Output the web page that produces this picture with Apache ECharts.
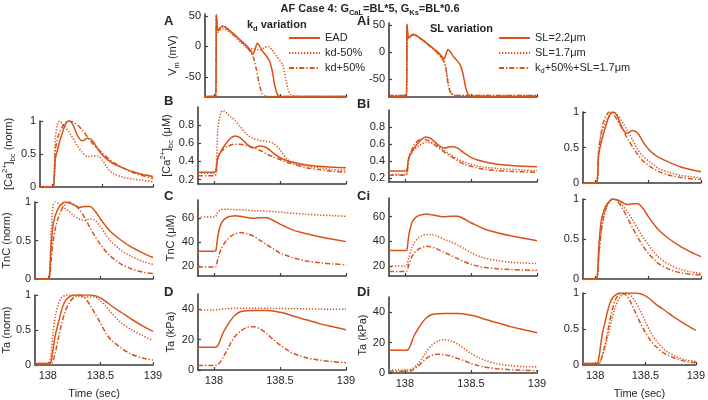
<!DOCTYPE html>
<html>
<head>
<meta charset="utf-8">
<script src="https://cdn.jsdelivr.net/npm/echarts@6.0.0/dist/echarts.min.js"></script>
<style>
  html, body { margin: 0; padding: 0; background: #fff; }
  #chart { width: 708px; height: 400px; }
</style>
</head>
<body>
<div id="chart"></div>
<script>
// time samples shared by the Ca / TnC / Ta traces (sec)
const T = [137.88, 138.0, 138.015, 138.03, 138.05, 138.07, 138.1, 138.13, 138.16, 138.2, 138.25,
  138.3, 138.35, 138.4, 138.45, 138.5, 138.55, 138.6, 138.7, 138.8, 138.9, 139.0];

// Vm traces (mV), each with its own time samples
const vmEadT = [137.88, 138.012, 138.016, 138.022, 138.03, 138.045, 138.06, 138.08, 138.1, 138.15, 138.2, 138.25,
  138.28, 138.295, 138.31, 138.325, 138.34, 138.37, 138.4, 138.42, 138.44, 138.46, 138.48, 138.5, 139.0];
const vmEadV = [-82, -82, 52, 34, 26, 30, 33, 32, 29, 20, 10, 0,
  -8, -13, -5, 5, 2, -9, -17, -24, -40, -65, -79, -82, -82];
const vmKdLoT = [137.88, 138.012, 138.016, 138.022, 138.03, 138.05, 138.07, 138.1, 138.15, 138.2, 138.25, 138.3,
  138.35, 138.38, 138.41, 138.44, 138.48, 138.52, 138.54, 138.56, 138.58, 138.61, 139.0];
const vmKdLoV = [-82, -82, 50, 30, 23, 27, 29, 26, 17, 7, -3, -4,
  -6, -2, 0, -6, -18, -30, -50, -70, -79, -82, -82];
const vmKdHiT = [137.88, 138.012, 138.016, 138.022, 138.03, 138.045, 138.06, 138.08, 138.1, 138.15, 138.2, 138.25,
  138.28, 138.3, 138.32, 138.34, 138.36, 138.39, 139.0];
const vmKdHiV = [-82, -82, 52, 34, 26, 30, 33, 32, 29, 19, 9, -2,
  -11, -20, -38, -60, -76, -82, -82];
const vmSlT = [137.88, 138.012, 138.016, 138.022, 138.03, 138.045, 138.06, 138.08, 138.1, 138.15, 138.2, 138.25,
  138.28, 138.3, 138.315, 138.33, 138.35, 138.38, 139.0];
const vmSlShortV = [-80, -80, 50, 30, 27, 30, 32, 31, 28, 19, 9, -2, -11, -18, -35, -60, -76, -80, -80];
const vmSlKdV = [-80, -80, 51, 31, 27, 30, 32, 31, 28, 19, 9, -2, -11, -19, -38, -63, -77, -80, -80];

// [Ca2+]bc (uM)
const caEad = [0.28, 0.28, 0.29, 0.44, 0.50, 0.55, 0.61, 0.66, 0.68, 0.66, 0.59, 0.55, 0.57, 0.55, 0.49, 0.44, 0.41, 0.39, 0.36, 0.345, 0.335, 0.33];
const caKdLo = [0.27, 0.27, 0.30, 0.75, 0.93, 0.96, 0.93, 0.89, 0.85, 0.78, 0.70, 0.65, 0.63, 0.62, 0.60, 0.53, 0.43, 0.38, 0.35, 0.33, 0.31, 0.30];
const caKdHi = [0.24, 0.24, 0.26, 0.44, 0.50, 0.53, 0.56, 0.58, 0.59, 0.59, 0.57, 0.55, 0.52, 0.48, 0.45, 0.42, 0.39, 0.37, 0.33, 0.31, 0.29, 0.28];
const caSlShort = [0.24, 0.24, 0.25, 0.42, 0.49, 0.53, 0.57, 0.60, 0.62, 0.61, 0.57, 0.52, 0.47, 0.42, 0.385, 0.36, 0.34, 0.325, 0.31, 0.30, 0.29, 0.285];
const caSlKd = [0.23, 0.23, 0.24, 0.43, 0.52, 0.59, 0.64, 0.66, 0.65, 0.62, 0.56, 0.50, 0.45, 0.40, 0.36, 0.335, 0.315, 0.30, 0.285, 0.275, 0.27, 0.265];

// TnC (uM)
const tnEad = [32.5, 32.5, 33, 45, 54, 58, 60.5, 61.5, 62, 61.5, 60.5, 59.8, 60.2, 60.2, 58, 55, 52.5, 50, 47, 44.5, 42.5, 40.5];
const tnKdLo = [61, 61, 61.5, 65, 67, 67.3, 67.3, 67.2, 67, 66.8, 66.5, 66.2, 66, 65.8, 65.4, 65, 64.5, 64, 63.2, 62.5, 62, 61.5];
const tnKdHi = [19.4, 19.4, 19.6, 26, 33, 37.5, 42, 45, 47, 48, 47, 45, 41.5, 38, 34.5, 31, 29, 27, 24.5, 23, 22, 21.3];
const tnSlShort = [20, 20, 20.5, 27, 34, 38.5, 42.5, 44.5, 45.5, 45.5, 44, 41.5, 39.5, 37, 34, 31, 28.5, 26.5, 24.5, 23, 22.5, 22];
const tnSlKd = [15.7, 15.7, 16, 21, 27, 30.5, 33.5, 35, 36, 35.5, 33.5, 31, 28.5, 26, 23.5, 21.5, 20, 19, 17.8, 17.2, 16.8, 16.6];

// Ta (kPa)
const taEad = [15, 15, 15, 16, 20, 24.5, 29, 33, 36, 38.3, 39, 39.2, 39.2, 39.1, 38.8, 38, 37, 35.5, 33, 30.5, 28.5, 26.5];
const taKdLo = [39.5, 39.5, 39.5, 39.7, 40, 40.2, 40.4, 40.5, 40.6, 40.6, 40.6, 40.6, 40.6, 40.6, 40.5, 40.5, 40.4, 40.3, 40.2, 40.1, 40, 40];
const taKdHi = [3, 3, 3, 3.5, 5.5, 8.5, 13, 18, 22, 25.5, 28, 28.5, 27, 24, 20, 16.5, 13.5, 11, 8, 6.5, 5.5, 4.8];
const taSlShort = [2, 2, 2, 2, 2.5, 3.5, 6, 9.5, 13.5, 18, 21, 22, 21, 19, 16, 13, 10.5, 8.5, 6, 4.8, 4.2, 4];
const taSlKd = [1.2, 1.2, 1.2, 1.2, 1.5, 2.5, 4.5, 7, 9.5, 11.5, 12.4, 12, 11, 9.5, 8, 6.3, 5, 4, 2.8, 2.2, 1.8, 1.5];

// normalised traces, kd variation (left column)
const caNEad = [0, 0, 0.03, 0.42, 0.55, 0.67, 0.82, 0.95, 1.0, 0.96, 0.78, 0.70, 0.74, 0.70, 0.58, 0.48, 0.41, 0.36, 0.29, 0.23, 0.19, 0.16];
const caNKdLo = [0, 0, 0.05, 0.70, 0.95, 1.0, 0.96, 0.90, 0.85, 0.75, 0.62, 0.52, 0.46, 0.47, 0.47, 0.40, 0.28, 0.21, 0.15, 0.12, 0.10, 0.08];
const caNKdHi = [0, 0, 0.05, 0.55, 0.72, 0.82, 0.91, 0.97, 1.0, 0.99, 0.94, 0.86, 0.76, 0.66, 0.58, 0.51, 0.44, 0.38, 0.29, 0.22, 0.17, 0.13];
const tnNEad = [0, 0, 0.02, 0.40, 0.70, 0.82, 0.92, 0.97, 1.0, 0.99, 0.96, 0.93, 0.94, 0.94, 0.88, 0.78, 0.69, 0.61, 0.50, 0.41, 0.34, 0.28];
const tnNKdLo = [0, 0, 0.05, 0.55, 0.95, 1.0, 0.98, 0.95, 0.92, 0.88, 0.82, 0.78, 0.76, 0.78, 0.76, 0.68, 0.58, 0.49, 0.37, 0.29, 0.23, 0.19];
const tnNKdHi = [0, 0, 0.01, 0.22, 0.48, 0.65, 0.80, 0.90, 0.96, 1.0, 0.97, 0.90, 0.80, 0.67, 0.55, 0.45, 0.36, 0.29, 0.19, 0.13, 0.09, 0.07];
const taNEad = [0.02, 0.02, 0.02, 0.05, 0.22, 0.42, 0.60, 0.78, 0.90, 0.97, 1.0, 1.0, 1.0, 1.0, 0.99, 0.96, 0.91, 0.85, 0.75, 0.65, 0.56, 0.48];
const taNKdLo = [0.02, 0.02, 0.02, 0.15, 0.45, 0.68, 0.87, 0.96, 0.99, 1.0, 0.99, 0.98, 0.97, 0.97, 0.97, 0.92, 0.84, 0.75, 0.60, 0.50, 0.42, 0.35];
const taNKdHi = [0, 0, 0, 0.01, 0.06, 0.17, 0.38, 0.58, 0.74, 0.88, 0.97, 1.0, 0.96, 0.86, 0.73, 0.60, 0.46, 0.36, 0.24, 0.15, 0.10, 0.07];

// normalised traces, SL variation (right column)
const caNSlShort = [0, 0, 0.03, 0.47, 0.66, 0.76, 0.87, 0.95, 1.0, 0.97, 0.87, 0.74, 0.61, 0.47, 0.38, 0.31, 0.26, 0.20, 0.15, 0.11, 0.09, 0.07];
const caNSlKd = [0, 0, 0.03, 0.47, 0.68, 0.84, 0.95, 1.0, 0.98, 0.90, 0.77, 0.63, 0.51, 0.40, 0.31, 0.25, 0.20, 0.16, 0.11, 0.08, 0.06, 0.05];
const tnNSlShort = [0, 0, 0.02, 0.28, 0.55, 0.72, 0.88, 0.96, 1.0, 0.99, 0.93, 0.84, 0.74, 0.63, 0.52, 0.43, 0.34, 0.27, 0.18, 0.12, 0.09, 0.07];
const tnNSlKd = [0, 0, 0.02, 0.30, 0.58, 0.75, 0.90, 0.97, 1.0, 0.98, 0.89, 0.77, 0.64, 0.52, 0.41, 0.32, 0.25, 0.19, 0.12, 0.08, 0.06, 0.05];
const taNSlShort = [0.02, 0.02, 0.02, 0.02, 0.05, 0.12, 0.25, 0.42, 0.60, 0.80, 0.95, 1.0, 0.97, 0.88, 0.75, 0.60, 0.46, 0.35, 0.20, 0.12, 0.07, 0.05];
const taNSlKd = [0, 0, 0, 0, 0.04, 0.12, 0.29, 0.50, 0.70, 0.90, 0.99, 0.98, 0.88, 0.73, 0.58, 0.45, 0.34, 0.26, 0.15, 0.09, 0.05, 0.03];

// tick labels
const xTicks = [138, 138.5, 139];
const vmTicks = [-50, 0, 50];
const caTicks = [0.2, 0.4, 0.6, 0.8];
const tnTicks = [20, 40, 60];
const taTicks = [0, 20, 40];
const normTicks = [0, 0.5, 1];

const kdNames = ['EAD', 'kd-50%', 'kd+50%'];
const slNames = ['SL=2.2μm', 'SL=1.7μm', 'kd+50%+SL=1.7μm'];

const ORANGE = '#D95319';
const AXIS = '#3d3d3d';
const TEXT = '#262626';
const FONT = 'Liberation Sans, Arial, sans-serif';
const DASH = { solid: 'solid', dot: [1.3, 1.7], dashdot: [5, 2, 1.3, 2] };

const nameRich = {
  n: { fontSize: 11, lineHeight: 16, color: TEXT, fontFamily: FONT },
  sup: { fontSize: 7.5, lineHeight: 8, verticalAlign: 'top', color: TEXT, fontFamily: FONT },
  sub: { fontSize: 7.5, lineHeight: 8, verticalAlign: 'bottom', color: TEXT, fontFamily: FONT }
};

const caName = (u) => '{n|[Ca}{sup|2+}{n|]}{sub|bc}{n| (' + u + ')}';

// one entry per subplot: [left, top, width, height, xmin, ymin, ymax, yticks, yname, nameGap, bottomRow, traces]
const panels = [
  // A / Ai: membrane potential
  [205, 14, 141, 83, 137.93, -83, 53, vmTicks, '{n|V}{sub|m}{n| (mV)}', 20, false,
    [[vmEadT, vmEadV, 'solid', kdNames[0]], [vmKdLoT, vmKdLoV, 'dot', kdNames[1]], [vmKdHiT, vmKdHiV, 'dashdot', kdNames[2]]]],
  [389, 23, 148, 74, 137.88, -83, 54, vmTicks, '', 0, false,
    [[vmEadT, vmEadV, 'solid', slNames[0]], [vmSlT, vmSlShortV, 'dot', slNames[1]], [vmSlT, vmSlKdV, 'dashdot', slNames[2]]]],
  // B / C / D
  [198, 107, 148, 77, 137.88, 0.15, 1.0, caTicks, caName('μM'), 20, false,
    [[T, caEad, 'solid'], [T, caKdLo, 'dot'], [T, caKdHi, 'dashdot']]],
  [198, 200, 148, 76, 137.88, 12, 75, tnTicks, '{n|TnC (μM)}', 19, false,
    [[T, tnEad, 'solid'], [T, tnKdLo, 'dot'], [T, tnKdHi, 'dashdot']]],
  [198, 294, 148, 76, 137.88, 0, 50, taTicks, '{n|Ta (kPa)}', 19, true,
    [[T, taEad, 'solid'], [T, taKdLo, 'dot'], [T, taKdHi, 'dashdot']]],
  // Bi / Ci / Di
  [389, 110, 148, 72, 137.88, 0.15, 1.0, caTicks, '', 0, false,
    [[T, caEad, 'solid'], [T, caSlShort, 'dot'], [T, caSlKd, 'dashdot']]],
  [389, 198, 148, 78, 137.88, 12, 75, tnTicks, '', 0, false,
    [[T, tnEad, 'solid'], [T, tnSlShort, 'dot'], [T, tnSlKd, 'dashdot']]],
  [389, 297, 148, 76, 137.88, 0, 50, taTicks, '{n|Ta (kPa)}', 17, true,
    [[T, taEad, 'solid'], [T, taSlShort, 'dot'], [T, taSlKd, 'dashdot']]],
  // left column, normalised, kd variation
  [33, 121, 120, 66, 137.88, 0, 1, normTicks, caName('norm'), 19, false,
    [[T, caNEad, 'solid'], [T, caNKdLo, 'dot'], [T, caNKdHi, 'dashdot']]],
  [33, 202, 120, 77, 137.88, 0, 1, normTicks, '{n|TnC (norm)}', 19, false,
    [[T, tnNEad, 'solid'], [T, tnNKdLo, 'dot'], [T, tnNKdHi, 'dashdot']]],
  [33, 295, 120, 73, 137.88, 0, 1, normTicks, '{n|Ta (norm)}', 19, true,
    [[T, taNEad, 'solid'], [T, taNKdLo, 'dot'], [T, taNKdHi, 'dashdot']]],
  // right column, normalised, SL variation
  [583, 112, 118, 71, 137.88, 0, 1, normTicks, '', 0, false,
    [[T, caNEad, 'solid'], [T, caNSlShort, 'dot'], [T, caNSlKd, 'dashdot']]],
  [583, 199, 118, 80, 137.88, 0, 1, normTicks, '', 0, false,
    [[T, tnNEad, 'solid'], [T, tnNSlShort, 'dot'], [T, tnNSlKd, 'dashdot']]],
  [583, 293, 118, 74, 137.88, 0, 1, normTicks, '', 0, true,
    [[T, taNEad, 'solid'], [T, taNSlShort, 'dot'], [T, taNSlKd, 'dashdot']]]
];

const grid = [], xAxis = [], yAxis = [], series = [];
panels.forEach((p, i) => {
  const [left, top, width, height, xmin, ymin, ymax, yticks, yname, nameGap, bottomRow, traces] = p;
  const isNormCol = left < 100 || left > 560;
  grid.push({ left, top, width, height, containLabel: false });
  xAxis.push({
    type: 'value', gridIndex: i, min: xmin, max: 139,
    name: bottomRow && isNormCol ? 'Time (sec)' : '',
    nameLocation: 'middle', nameGap: 23,
    nameTextStyle: { fontSize: 11, color: TEXT, fontFamily: FONT },
    axisLine: { show: true, onZero: false, lineStyle: { color: AXIS, width: 1.6 } },
    axisTick: { show: true, inside: true, length: 3, customValues: xTicks, lineStyle: { color: AXIS, width: 1.2 } },
    axisLabel: { show: bottomRow, customValues: xTicks, margin: 5, fontSize: 11, color: TEXT, fontFamily: FONT },
    splitLine: { show: false }
  });
  yAxis.push({
    type: 'value', gridIndex: i, min: ymin, max: ymax,
    name: yname, nameLocation: 'middle', nameGap, nameRotate: 90,
    nameTextStyle: { rich: nameRich },
    axisLine: { show: true, onZero: false, lineStyle: { color: AXIS, width: 1.6 } },
    axisTick: { show: true, inside: true, length: 3, customValues: yticks, lineStyle: { color: AXIS, width: 1.2 } },
    axisLabel: { customValues: yticks, margin: 4, fontSize: 11, color: TEXT, fontFamily: FONT },
    splitLine: { show: false }
  });
  traces.forEach(([ts, vs, style, name], k) => {
    series.push({
      type: 'line', name: name || ('p' + i + '_' + k),
      xAxisIndex: i, yAxisIndex: i,
      data: ts.map((t, j) => [t, vs[j]]),
      showSymbol: false, symbol: 'none',
      smooth: i < 2 ? 0.15 : 0.3,
      lineStyle: { color: ORANGE, width: 1.5, type: DASH[style] },
      itemStyle: { color: ORANGE },
      silent: true, animation: false
    });
  });
});

const legendBase = {
  orient: 'vertical', selectedMode: false, top: 26,
  itemWidth: 31, itemHeight: 10, itemGap: 1,
  itemStyle: { opacity: 0 },
  textStyle: { fontSize: 11, lineHeight: 14, color: TEXT, fontFamily: FONT,
    rich: { n: { fontSize: 11, lineHeight: 14, color: TEXT, fontFamily: FONT },
            sub: { fontSize: 7.5, lineHeight: 7, verticalAlign: 'bottom', color: TEXT, fontFamily: FONT } } }
};

const txt = (x, y, text, size, bold, align, rich) => ({
  type: 'text', x, y, silent: true,
  style: { text, fill: TEXT, font: (bold ? 'bold ' : '') + size + 'px ' + FONT,
    align: align || 'left', verticalAlign: 'middle', rich }
});
const boldRich = {
  b: { fontSize: 11, fontWeight: 'bold', lineHeight: 16, fill: TEXT, fontFamily: FONT },
  bs: { fontSize: 7.5, fontWeight: 'bold', lineHeight: 8, verticalAlign: 'bottom', fill: TEXT, fontFamily: FONT },
  v: { fontSize: 11, fontWeight: 'bold', lineHeight: 16, fill: TEXT, fontFamily: FONT },
  vs: { fontSize: 7.5, fontWeight: 'bold', lineHeight: 8, verticalAlign: 'bottom', fill: TEXT, fontFamily: FONT }
};

const option = {
  backgroundColor: '#ffffff',
  animation: false,
  grid, xAxis, yAxis, series,
  legend: [
    Object.assign({}, legendBase, { left: 283, data: kdNames,
      formatter: (n) => '{n|' + n + '}' }),
    Object.assign({}, legendBase, { left: 493, data: slNames,
      formatter: (n) => n.startsWith('kd') ? '{n|k}{sub|d}{n|' + n.slice(2) + '}' : '{n|' + n + '}' })
  ],
  graphic: [
    txt(370, 9, '{b|AF Case 4: G}{bs|CaL}{b|=BL*5, G}{bs|Ks}{b|=BL*0.6}', 11, true, 'center', boldRich),
    txt(247, 25, '{v|k}{vs|d}{v| variation}', 11, true, 'left', boldRich),
    txt(430, 29, 'SL variation', 11, true),
    txt(164, 21, 'A', 13, true),
    txt(357, 21, 'Ai', 13, true),
    txt(164, 101, 'B', 13, true),
    txt(357, 104, 'Bi', 13, true),
    txt(164, 196, 'C', 13, true),
    txt(357, 196, 'Ci', 13, true),
    txt(164, 292, 'D', 13, true),
    txt(357, 292, 'Di', 13, true)
  ]
};

const chart = echarts.init(document.getElementById('chart'), null, { renderer: 'canvas' });
chart.setOption(option);
</script>
</body>
</html>
